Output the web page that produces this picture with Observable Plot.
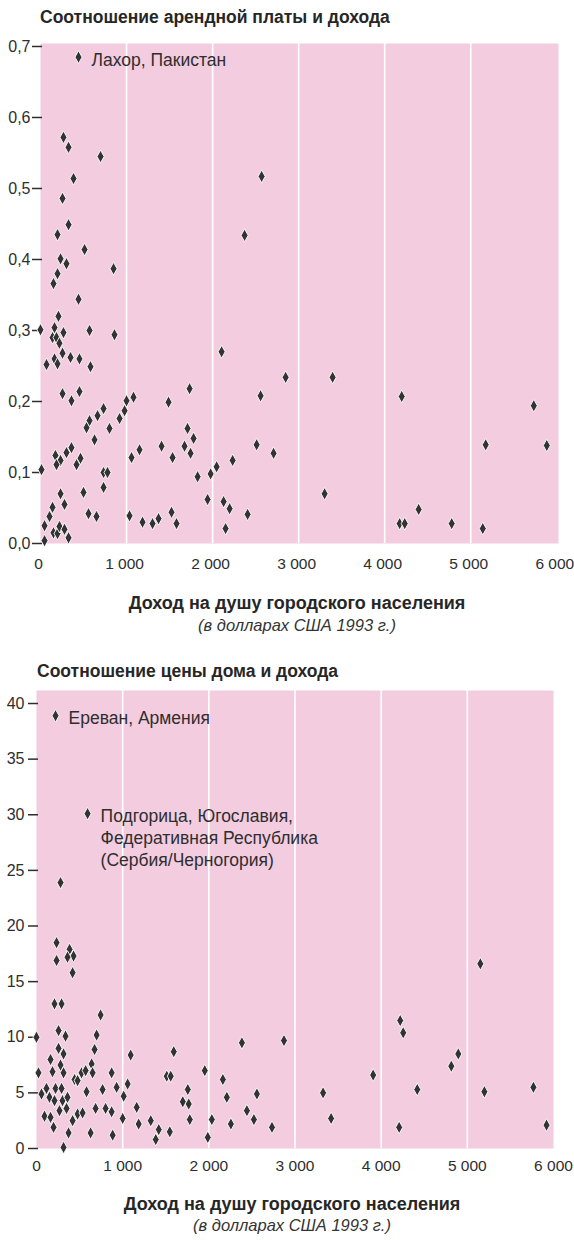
<!DOCTYPE html>
<html><head><meta charset="utf-8">
<script src="https://cdn.jsdelivr.net/npm/d3@7"></script>
<script src="https://cdn.jsdelivr.net/npm/@observablehq/plot@0.6"></script>
<style>
body{margin:0;background:#fff;font-family:"Liberation Sans",Arial,sans-serif;color:#2b2b2b}
#page{position:relative;width:574px;height:1240px;overflow:hidden}
.t{position:absolute;white-space:nowrap;line-height:1}
.title{font-weight:bold;font-size:17.5px;color:#262626}
.xt{font-weight:bold;font-size:18px;width:574px;text-align:center;color:#262626}
.xs{font-style:italic;font-size:16.5px;width:574px;text-align:center;color:#333}
.chart{position:absolute;left:0}
</style></head>
<body><div id="page">
<div class="t title" style="left:40px;top:9px">Соотношение арендной платы и дохода</div>
<div class="chart" id="c1" style="top:30px"></div>
<div class="t xt" style="left:10px;top:594px">Доход на душу городского населения</div>
<div class="t xs" style="left:10px;top:617px">(в долларах США 1993 г.)</div>
<div class="t title" style="left:37px;top:663px">Соотношение цены дома и дохода</div>
<div class="chart" id="c2" style="top:680px"></div>
<div class="t xt" style="left:5px;top:1195px">Доход на душу городского населения</div>
<div class="t xs" style="left:5px;top:1217px">(в долларах США 1993 г.)</div>
</div>
<script>
// ---- Data: rent-to-income ratio ----
const rentIncome = [442,267,326,698,384,2570,256,326,198,2372,512,233,302,849,198,151,442,209,163,140,186,267,570,860,0,220,2105,70,163,198,256,349,453,581,2849,256,360,453,1733,2558,1488,1081,1000,977,919,733,663,570,535,802,628,1709,1779,1674,1744,1407,1151,1058,1535,360,302,174,233,186,465,419,12,733,779,733,500,233,279,140,105,47,151,198,221,279,326,47,558,651,1035,1186,1302,1372,1523,1581,1826,1977,2047,2233,1942,2128,2198,2151,2407,2512,2709,3395,3302,4198,4174,4233,4395,4779,5140,5174,5733,5884];
const rentRatio  = [0.685,0.572,0.558,0.545,0.514,0.517,0.486,0.449,0.435,0.434,0.414,0.401,0.394,0.387,0.380,0.366,0.344,0.320,0.304,0.290,0.290,0.297,0.300,0.294,0.301,0.282,0.270,0.252,0.260,0.253,0.268,0.262,0.260,0.249,0.234,0.211,0.201,0.214,0.218,0.208,0.199,0.206,0.201,0.187,0.176,0.190,0.180,0.173,0.163,0.162,0.146,0.162,0.148,0.137,0.127,0.137,0.132,0.121,0.121,0.135,0.128,0.124,0.117,0.111,0.120,0.111,0.104,0.100,0.100,0.079,0.072,0.070,0.055,0.051,0.038,0.025,0.015,0.014,0.024,0.020,0.008,0.004,0.042,0.038,0.039,0.030,0.028,0.035,0.044,0.028,0.094,0.098,0.108,0.117,0.062,0.059,0.049,0.021,0.041,0.139,0.127,0.234,0.070,0.207,0.028,0.028,0.048,0.028,0.021,0.139,0.194,0.138];
const rentNotes = ["Лахор, Пакистан"];
const rentNoteIncome = [442];
const rentNoteRatio = [0.685];

// ---- Data: house-price-to-income ratio ----
const priceIncome = [221,593,279,233,233,384,430,360,419,209,291,744,256,0,337,698,256,314,674,1093,1593,163,23,186,279,314,523,570,640,651,442,477,872,1953,2163,1512,1558,58,116,151,221,291,209,302,360,349,267,581,767,930,1012,1058,477,535,686,802,872,93,163,198,419,372,314,628,884,1000,1163,1186,1326,1384,1419,1547,1698,1756,1767,1779,1988,2035,2209,2256,2384,2442,2523,2558,2733,2872,3326,3419,3907,4221,4256,4209,4419,4814,4895,5151,5198,5767,5919];
const priceRatio  = [38.9,30.1,23.9,18.5,16.9,17.9,17.3,17.2,15.8,13.0,13.0,12.0,10.6,10.0,10.1,10.2,9.0,8.5,8.9,8.4,8.7,8.0,6.8,6.9,7.5,6.8,6.8,7.0,7.6,6.8,6.2,6.1,6.8,7.0,6.2,6.5,6.5,4.9,5.4,4.6,5.4,5.4,4.3,4.3,4.6,3.6,3.4,5.1,5.3,5.5,4.7,5.8,3.1,3.2,3.6,3.6,3.3,2.9,2.8,1.9,2.5,1.4,0.1,1.4,1.2,2.7,3.7,2.2,2.5,0.8,1.7,1.5,4.2,5.3,4.0,2.6,1.0,2.6,4.6,2.2,9.5,3.4,2.6,4.9,1.9,9.7,5.0,2.7,6.6,11.5,10.4,1.9,5.3,7.4,8.5,16.6,5.1,5.5,2.1];
const priceNotes = ["Ереван, Армения","Подгорица, Югославия,\nФедеративная Республика\n(Сербия/Черногория)"];
const priceNoteIncome = [221,593];
const priceNoteRatio = [38.9,30.1];

// ---- Ticks ----
const xTicks = [0,1000,2000,3000,4000,5000,6000];
const xGrid = [1000,2000,3000,4000,5000];
const rentTicks = [0,0.1,0.2,0.3,0.4,0.5,0.6,0.7];
const priceTicks = [0,5,10,15,20,25,30,35,40];

const fmtX = d => d === 0 ? "0" : d3.format(",")(d).replace(/,/g, " ");
const fmtRent = d => d.toFixed(1).replace(".", ",");

const tallDiamond = {
  draw(ctx, size) {
    const r = Math.sqrt(size / Math.PI);
    const w = r * 0.55;
    ctx.moveTo(0, -r); ctx.lineTo(w, 0); ctx.lineTo(0, r); ctx.lineTo(-w, 0); ctx.closePath();
  }
};

const PINK = "#f3cce0";
const INK = "#333333";
const FONT = "'Liberation Sans', Arial, sans-serif";

function makeChart(xs, ys, notes, nx, ny, opt) {
  const data = xs.map((x, i) => ({x, y: ys[i]}));
  const ann = notes.map((t, i) => ({t, x: nx[i], y: ny[i]}));
  return Plot.plot({
    width: 574, height: opt.height,
    marginTop: opt.mt, marginBottom: opt.mb, marginLeft: opt.ml, marginRight: opt.mr,
    style: {fontFamily: FONT, fontSize: "16px", color: "#2e2e2e", background: "transparent"},
    x: {domain: opt.xdom},
    y: {domain: opt.ydom},
    marks: [
      Plot.frame({fill: PINK, stroke: null}),
      Plot.gridX(xGrid, {stroke: "white", strokeOpacity: 1, strokeWidth: 1.6}),
      Plot.axisX({ticks: xTicks, tickSize: 0, tickPadding: opt.xpad, tickFormat: fmtX, label: null, fontSize: 15.5, dx: opt.xdx}),
      Plot.axisY({ticks: opt.yticks, tickSize: 10, tickPadding: opt.ypad, dx: 2, tickFormat: opt.fmtY, label: null, fontSize: 16, strokeWidth: 1.5}),
      Plot.dot(data, {x: "x", y: "y", symbol: tallDiamond, r: 6.4, fill: INK, stroke: "white", strokeWidth: 0.9}),
      Plot.text(ann, {x: "x", y: "y", text: "t", textAnchor: "start", dx: 13, fontSize: 17.5, fill: "#2e2e2e", lineAnchor: "top", dy: -7, lineHeight: 1.25})
    ]
  });
}

document.getElementById("c1").append(makeChart(rentIncome, rentRatio, rentNotes, rentNoteIncome, rentNoteRatio, {
  height: 545, mt: 13, mb: 32, ml: 40, mr: 16, xdom: [0, 6020], ydom: [0, 0.7042], yticks: rentTicks, fmtY: fmtRent, xpad: 14, ypad: 2, xdx: -2
}));
document.getElementById("c2").append(makeChart(priceIncome, priceRatio, priceNotes, priceNoteIncome, priceNoteRatio, {
  height: 500, mt: 10, mb: 32, ml: 36, mr: 21, xdom: [0, 6000], ydom: [0, 41.17], yticks: priceTicks, fmtY: d => String(d), xpad: 11, ypad: 4, xdx: 0
}));
</script>
</body></html>
